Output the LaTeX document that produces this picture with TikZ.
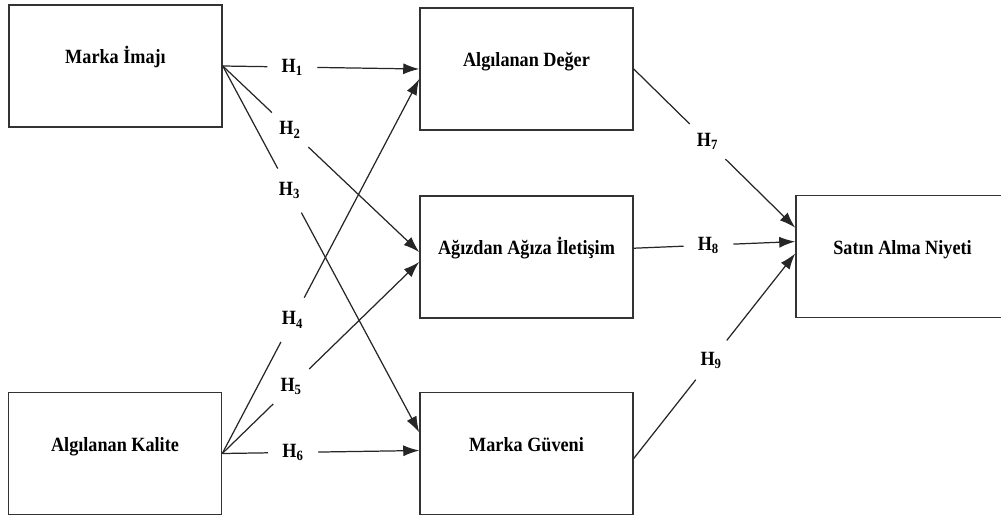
\documentclass[tikz,border=0pt]{standalone}
\usepackage{fontspec}
\setmainfont{Liberation Serif}[FakeStretch=0.9]
\usepackage{tikz}
\usetikzlibrary{arrows.meta}

\begin{document}
\begin{tikzpicture}[x=0.02cm,y=-0.02cm]

        \tikzstyle{construct}=[draw=black!80,line width=0.9pt,minimum width=4.26cm,minimum height=2.44cm,inner sep=0pt,
            font=\fontsize{11.5}{13}\selectfont\bfseries,text height=7pt,text depth=9.8pt]
        \tikzstyle{hyp}=[circle,fill=white,minimum size=1cm,inner sep=0pt,font=\fontsize{11.5}{13}\selectfont\bfseries]
        \tikzstyle{link}=[draw=black!85,line width=0.7pt,-{Latex[length=3.2mm,width=2.2mm]}]

        \useasboundingbox (0,0) rectangle (1001,518);
        \clip (0,0) rectangle (1001,518);

        %% Draw constructs
        \node[construct] (imaj) at (115.5,66) {Marka İmajı};
        \node[construct] (kalite) at (115,453.5) {Algılanan Kalite};
        \node[construct] (deger) at (526.5,69) {Algılanan Değer};
        \node[construct] (iletisim) at (526.5,257) {Ağızdan Ağıza İletişim};
        \node[construct] (guven) at (526.5,453.5) {Marka Güveni};
        \node[construct] (niyet) at (902.5,256.5) {Satın Alma Niyeti};

        %% Hypotheses
        \draw[link] (imaj.east) -- node[hyp,pos=0.354] {H\textsubscript{1}} (deger.west);
        \draw[link] (imaj.east) -- node[hyp,pos=0.343] {H\textsubscript{2}} ([yshift=2.8pt]iletisim.west);
        \draw[link] (imaj.east) -- node[hyp,pos=0.34] {H\textsubscript{3}} ([yshift=12pt]guven.west);
        \draw[link] (kalite.east) -- node[hyp,pos=0.357] {H\textsubscript{4}} ([yshift=-5.7pt]deger.west);
        \draw[link] (kalite.east) -- node[hyp,pos=0.35] {H\textsubscript{5}} ([yshift=-2.8pt]iletisim.west);
        \draw[link] (kalite.east) -- node[hyp,pos=0.36] {H\textsubscript{6}} ([yshift=1.7pt]guven.west);
        \draw[link] (deger.east) -- node[hyp,pos=0.457] {H\textsubscript{7}} ([yshift=16.4pt]niyet.west);
        \draw[link] ([yshift=5pt]iletisim.east) -- node[hyp,pos=0.463] {H\textsubscript{8}} ([yshift=8.5pt]niyet.west);
        \draw[link] ([yshift=-2.8pt]guven.east) -- node[hyp,pos=0.48] {H\textsubscript{9}} ([yshift=1.7pt]niyet.west);

\end{tikzpicture}
\end{document}
